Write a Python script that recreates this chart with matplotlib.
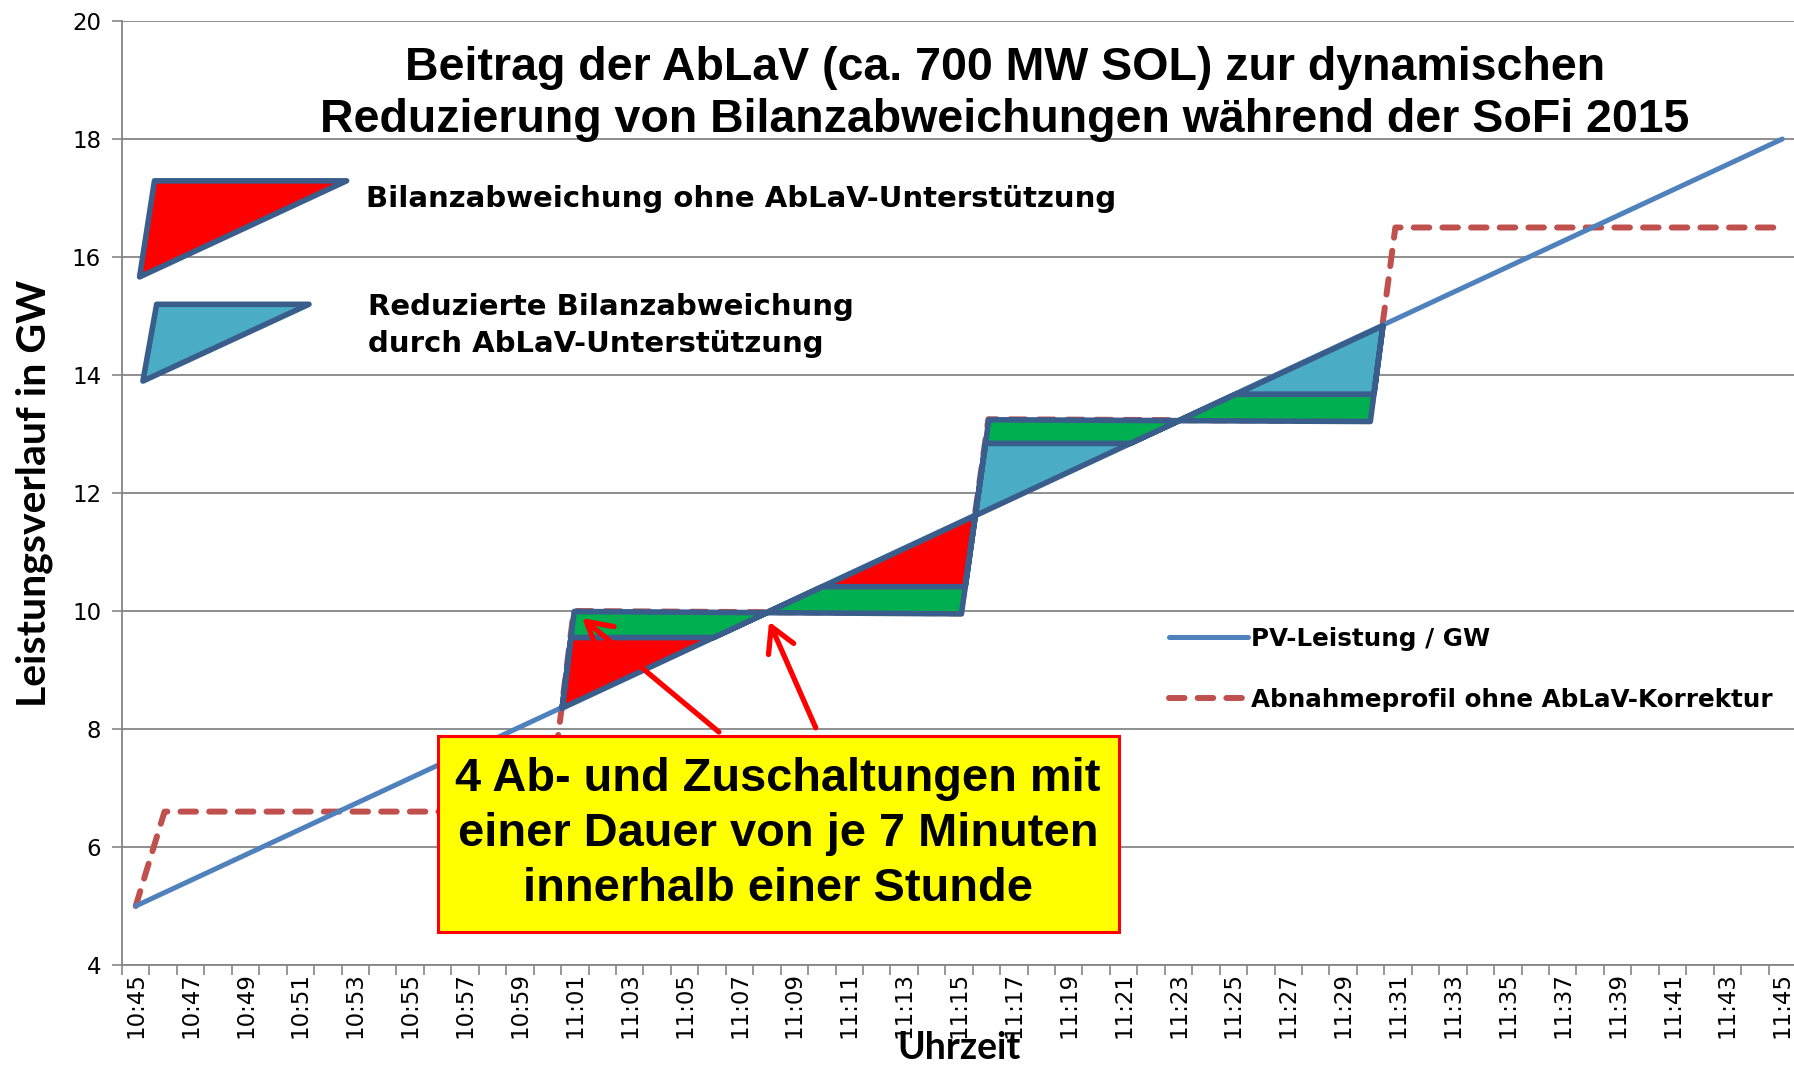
import numpy as np
import matplotlib
matplotlib.use("Agg")
import matplotlib.pyplot as plt
from matplotlib.patches import Polygon, Rectangle
from matplotlib.lines import Line2D

# minutes after 10:45
pv_t = [0, 60]
pv_gw = [5.0, 18.0]

# Abnahmeprofil ohne AbLaV-Korrektur
prof_t = [0, 1.05, 15.05, 15.96, 30.07, 31.07, 44.97, 45.9, 60]
prof_gw = [5.0, 6.6, 6.6, 10.0, 9.96, 13.25, 13.22, 16.5, 16.5]

# level splitting each deviation area (reduced part vs. AbLaV part)
split_gw = [9.56, 10.42, 12.85, 13.68]
area_color = ['#FF0000', '#FF0000', '#4BACC6', '#4BACC6']

times = ['%d:%02d' % (10 + (45 + m) // 60, (45 + m) % 60) for m in range(61)]

C_PV = '#4F81BD'
C_PROF = '#C0504D'
C_EDGE = '#3A5E8C'
C_GREEN = '#00B050'
C_GRID = '#868686'

fig = plt.figure(figsize=(17.94, 10.65), dpi=100)
ax = fig.add_axes([122 / 1794, 1 - 965 / 1065, 1674 / 1794, 944 / 1065])

ax.plot(pv_t, pv_gw, color=C_PV, lw=3.6, solid_capstyle='round', zorder=3)
ax.plot(prof_t, prof_gw, color=C_PROF, lw=4.3, linestyle=(0, (2.6, 2.2)),
        dash_capstyle='round', zorder=2)

# deviation areas between profile and PV line
grid = np.linspace(15, 46.5, 6301)
d = np.interp(grid, prof_t, prof_gw) - np.interp(grid, pv_t, pv_gw)
cross = grid[np.where(np.diff(np.sign(d)) != 0)[0]]
for i in range(len(split_gw)):
    a, b = cross[i], cross[i + 1]
    extra = [t for t in prof_t if a < t < b]
    x = np.union1d(np.linspace(a, b, 300), extra)
    pv = np.interp(x, pv_t, pv_gw)
    pr = np.interp(x, prof_t, prof_gw)
    mid = np.clip(split_gw[i], np.minimum(pv, pr), np.maximum(pv, pr))
    ax.fill_between(x, pv, mid, facecolor=area_color[i], edgecolor=C_EDGE,
                    lw=4, joinstyle='round', zorder=4)
    ax.fill_between(x, mid, pr, facecolor=C_GREEN, edgecolor=C_EDGE,
                    lw=4, joinstyle='round', zorder=4)

ax.set_xlim(-0.5, 60.5)
ax.set_ylim(4, 20)
ax.set_yticks(np.arange(4, 21, 2))
ax.set_xticks(np.arange(0, 61, 2))
ax.set_xticklabels(times[::2], rotation=90, fontsize=16.5, family='DejaVu Sans')
ax.set_xticks(np.arange(-0.5, 61, 1), minor=True)
ax.tick_params(axis='x', which='major', length=0, pad=5)
ax.tick_params(axis='x', which='minor', length=7, width=1.2, color=C_GRID)
ax.tick_params(axis='y', length=7, width=1.2, color=C_GRID, labelsize=16.5, pad=8)
ax.yaxis.grid(True, color=C_GRID, lw=1.3)
ax.set_axisbelow(True)
for s in ['top', 'right']:
    ax.spines[s].set_visible(False)
for s in ['left', 'bottom']:
    ax.spines[s].set_color(C_GRID)
    ax.spines[s].set_linewidth(1.3)

fig.text(34 / 1794, 1 - 493 / 1065, 'Leistungsverlauf in GW', rotation=90,
         ha='center', va='center', fontsize=29.5, fontweight='bold', family='Lato')
fig.text(959 / 1794, 1 - 1048 / 1065, 'Uhrzeit', ha='center', va='center',
         fontsize=27, fontweight='bold', family='Lato')

ax.text(0.5275, 0.923, 'Beitrag der AbLaV (ca. 700 MW SOL) zur dynamischen\n'
        'Reduzierung von Bilanzabweichungen während der SoFi 2015',
        transform=ax.transAxes, ha='center', va='center', fontsize=33.5,
        fontweight='bold', family='Liberation Sans', linespacing=1.24)

# shape legend for the deviation areas
ax.add_patch(Polygon([(0.0194, 0.8307), (0.1342, 0.8307), (0.0105, 0.7289)],
                     closed=True, transform=ax.transAxes, facecolor='#FF0000',
                     edgecolor=C_EDGE, lw=4, joinstyle='round', zorder=5))
ax.add_patch(Polygon([(0.0207, 0.6999), (0.1117, 0.6999), (0.0125, 0.6186)],
                     closed=True, transform=ax.transAxes, facecolor='#4BACC6',
                     edgecolor=C_EDGE, lw=4, joinstyle='round', zorder=5))
ax.text(0.1458, 0.8113, 'Bilanzabweichung ohne AbLaV-Unterstützung',
        transform=ax.transAxes, ha='left', va='center', fontsize=21,
        fontweight='bold', family='DejaVu Sans')
ax.text(0.1472, 0.6774, 'Reduzierte Bilanzabweichung\ndurch AbLaV-Unterstützung',
        transform=ax.transAxes, ha='left', va='center', fontsize=21,
        fontweight='bold', family='DejaVu Sans', linespacing=1.42)

handles = [Line2D([], [], color=C_PV, lw=3.6, solid_capstyle='round'),
           Line2D([], [], color=C_PROF, lw=4.3, linestyle=(0, (2.6, 2.2)),
                  dash_capstyle='round')]
ax.legend(handles, ['PV-Leistung / GW', 'Abnahmeprofil ohne AbLaV-Korrektur'],
          loc='upper left', bbox_to_anchor=(0.6254, 0.358), frameon=False,
          borderpad=0, borderaxespad=0, handlelength=3.2, handletextpad=0.15,
          labelspacing=1.5, prop={'family': 'DejaVu Sans', 'weight': 'bold',
                                  'size': 17.7})

# arrows and note box
for tail, head in [((21.25, 7.95), (16.27, 9.88)), ((24.78, 8.02), (23.08, 9.82))]:
    ax.annotate('', xy=head, xytext=tail, zorder=6,
                arrowprops=dict(arrowstyle='->,head_length=0.8,head_width=0.45',
                                color='#FF0000', lw=3.8, mutation_scale=22,
                                shrinkA=0, shrinkB=0))
ax.add_patch(Rectangle((0.1888, 0.035), 0.4068, 0.2076, transform=ax.transAxes,
                       facecolor='#FFFF00', edgecolor='#FF0000', lw=2.2, zorder=7))
ax.text(0.392, 0.1388, '4 Ab- und Zuschaltungen mit\neiner Dauer von je 7 Minuten\n'
        'innerhalb einer Stunde', transform=ax.transAxes, ha='center', va='center',
        fontsize=33.8, fontweight='bold', family='Liberation Sans', linespacing=1.32,
        zorder=8)

fig.savefig('out.png', dpi=100)
